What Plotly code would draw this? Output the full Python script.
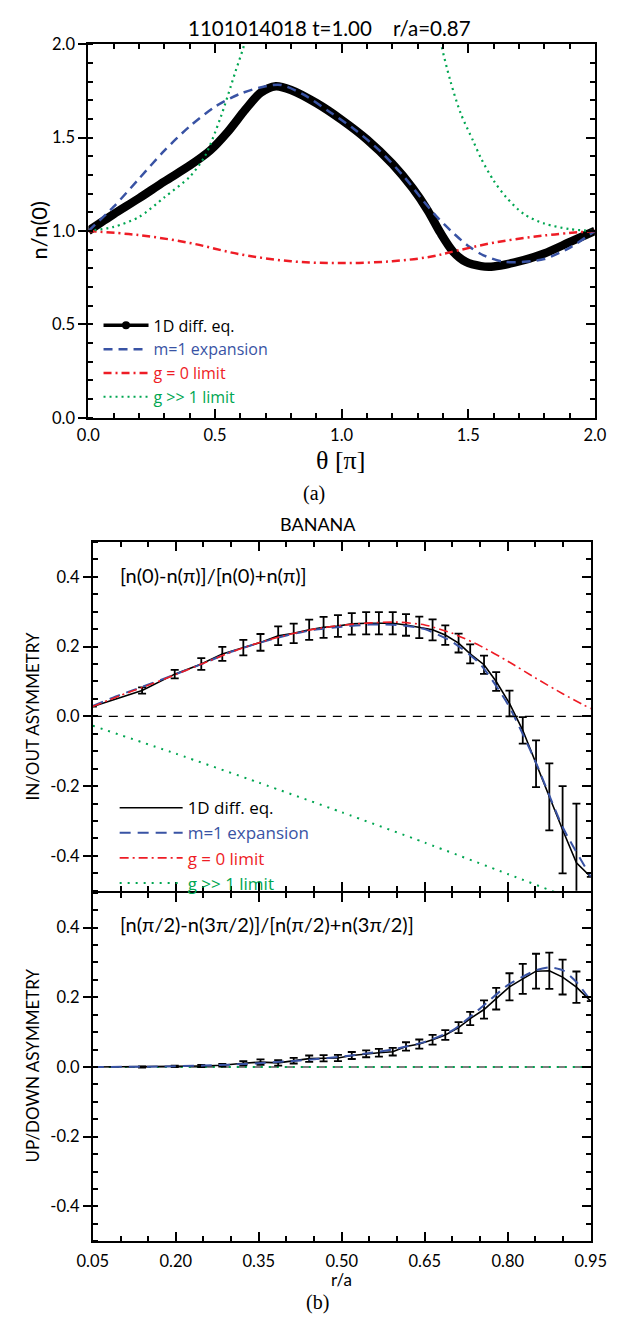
import plotly.graph_objects as go

W, H = 622, 1334

# ---------------- Panel (a): n/n(0) vs theta/pi ----------------
theta_diff = [0.00, 0.10, 0.20, 0.30, 0.40, 0.48, 0.55, 0.62, 0.68, 0.74, 0.80, 0.90, 1.00, 1.10,
              1.20, 1.28, 1.34, 1.39, 1.44, 1.49, 1.55, 1.60, 1.68, 1.80, 1.90, 2.00]
n_diff = [1.00, 1.09, 1.175, 1.265, 1.35, 1.43, 1.53, 1.65, 1.74, 1.775, 1.755, 1.685, 1.595, 1.49,
          1.36, 1.23, 1.11, 0.99, 0.89, 0.835, 0.812, 0.81, 0.83, 0.88, 0.94, 1.00]

theta_m1 = [0.00, 0.10, 0.20, 0.30, 0.40, 0.50, 0.60, 0.70, 0.76, 0.85, 0.95, 1.05, 1.15, 1.25,
            1.32, 1.38, 1.44, 1.50, 1.56, 1.64, 1.72, 1.80, 1.90, 2.00]
n_m1 = [1.00, 1.13, 1.28, 1.43, 1.56, 1.665, 1.735, 1.775, 1.782, 1.73, 1.64, 1.545, 1.43, 1.285,
        1.165, 1.07, 0.99, 0.92, 0.87, 0.835, 0.835, 0.85, 0.91, 1.00]

theta_g0 = [0.0, 0.2, 0.4, 0.6, 0.8, 1.0, 1.2, 1.35, 1.45, 1.6, 1.8, 2.0]
n_g0 = [1.0, 0.978, 0.936, 0.875, 0.838, 0.828, 0.838, 0.862, 0.893, 0.937, 0.976, 1.0]

theta_ginf = [0.0, 0.1, 0.2, 0.3, 0.4, 0.46, 0.52, 0.58, 0.62, 0.66, None,
              1.36, 1.39, 1.43, 1.47, 1.52, 1.55, 1.60, 1.65, 1.72, 1.80, 1.90, 2.0]
n_ginf = [1.0, 1.022, 1.075, 1.18, 1.29, 1.40, 1.60, 1.85, 2.02, 2.3, None,
          2.3, 2.02, 1.80, 1.63, 1.48, 1.39, 1.27, 1.18, 1.09, 1.04, 1.01, 1.0]

# ---------------- Panel (b): asymmetries vs r/a ----------------
r_pts = [0.139, 0.198, 0.246, 0.284, 0.322, 0.353, 0.385, 0.413, 0.441, 0.467, 0.493, 0.518,
         0.544, 0.567, 0.592, 0.616, 0.640, 0.664, 0.687, 0.711, 0.732, 0.757, 0.779, 0.803,
         0.827, 0.851, 0.875, 0.899, 0.924]
r_line = [0.05] + r_pts + [0.95]

inout_pts = [0.074, 0.121, 0.150, 0.179, 0.197, 0.212, 0.231, 0.238, 0.248, 0.255, 0.259, 0.265,
             0.267, 0.267, 0.267, 0.262, 0.255, 0.248, 0.233, 0.210, 0.179, 0.148, 0.100, 0.037,
             -0.040, -0.136, -0.231, -0.325, -0.420]
inout_err = [0.009, 0.012, 0.017, 0.020, 0.022, 0.024, 0.027, 0.028, 0.029, 0.030, 0.031, 0.031,
             0.032, 0.032, 0.032, 0.031, 0.031, 0.030, 0.028, 0.027, 0.027, 0.026, 0.027, 0.037,
             0.038, 0.067, 0.096, 0.125, 0.170]
inout_start, inout_end = 0.028, -0.46

updown_pts = [0.000, 0.002, 0.003, 0.005, 0.011, 0.014, 0.012, 0.018, 0.024, 0.025, 0.026, 0.033,
              0.038, 0.041, 0.044, 0.059, 0.066, 0.078, 0.092, 0.113, 0.139, 0.165, 0.196, 0.230,
              0.253, 0.275, 0.276, 0.258, 0.229]
updown_err = [0.002, 0.002, 0.003, 0.004, 0.006, 0.008, 0.008, 0.008, 0.009, 0.009, 0.009, 0.010,
              0.010, 0.011, 0.011, 0.012, 0.013, 0.014, 0.014, 0.016, 0.019, 0.026, 0.031, 0.039,
              0.043, 0.050, 0.052, 0.050, 0.045]
updown_start, updown_end = 0.0, 0.189

r_model = [0.05, 0.10, 0.14, 0.20, 0.25, 0.30, 0.35, 0.40, 0.45, 0.50, 0.55, 0.60, 0.65, 0.70,
           0.75, 0.80, 0.85, 0.90, 0.95]
inout_m1 = [0.030, 0.062, 0.085, 0.121, 0.152, 0.185, 0.210, 0.232, 0.248, 0.257, 0.263, 0.262,
            0.250, 0.213, 0.150, 0.035, -0.130, -0.320, -0.460]
inout_g0 = [0.028, 0.060, 0.083, 0.120, 0.152, 0.184, 0.211, 0.233, 0.250, 0.261, 0.268, 0.270,
            0.262, 0.238, 0.202, 0.158, 0.110, 0.064, 0.022]

r_ginf = [0.05, 0.20, 0.35, 0.50, 0.65, 0.80, 0.90, 0.95]
inout_ginf = [-0.027, -0.107, -0.190, -0.275, -0.362, -0.452, -0.513, -0.545]

r_m1_ud = [0.05, 0.15, 0.25, 0.30, 0.35, 0.40, 0.45, 0.50, 0.55, 0.60, 0.65, 0.70, 0.75, 0.80,
           0.85, 0.875, 0.90, 0.925, 0.95]
updown_m1 = [0.0, 0.001, 0.004, 0.007, 0.011, 0.016, 0.022, 0.030, 0.040, 0.053, 0.072, 0.105,
             0.168, 0.235, 0.277, 0.286, 0.277, 0.242, 0.190]

r_zero = [0.05, 0.95]
zero_vals = [0.0, 0.0]

theta_ticks = [0.0, 0.5, 1.0, 1.5, 2.0]
theta_ticktext = ["0.0", "0.5", "1.0", "1.5", "2.0"]
n_ticks = [0.0, 0.5, 1.0, 1.5, 2.0]
n_ticktext = ["0.0", "0.5", "1.0", "1.5", "2.0"]
r_ticks = [0.05, 0.20, 0.35, 0.50, 0.65, 0.80, 0.95]
r_ticktext = ["0.05", "0.20", "0.35", "0.50", "0.65", "0.80", "0.95"]
asym_ticks = [-0.4, -0.2, 0.0, 0.2, 0.4]
asym_ticktext = ["-0.4", "-0.2", "0.0", "0.2", "0.4"]

BLUE = "#3953A4"
RED = "#EE1C25"
GREEN = "#00A651"
SANS = "Lato"
LEG = "Open Sans"
SERIF = "Liberation Serif"

fig = go.Figure()

# ---- panel (a) traces ----
fig.add_trace(go.Scatter(x=[None], y=[None], mode="lines+markers", name="1D diff. eq.",
                         line=dict(color="black", width=3.5), marker=dict(color="black", size=8),
                         legend="legend", xaxis="x", yaxis="y"))
fig.add_trace(go.Scatter(x=theta_diff, y=n_diff, mode="lines", showlegend=False,
                         line=dict(color="black", width=8.5, shape="spline", smoothing=0.8),
                         xaxis="x", yaxis="y"))
fig.add_trace(go.Scatter(x=theta_m1, y=n_m1, mode="lines",
                         name="<span style='color:%s'>m=1 expansion</span>" % BLUE,
                         line=dict(color=BLUE, width=2.5, dash="9px,6px", shape="spline", smoothing=0.8),
                         legend="legend", xaxis="x", yaxis="y"))
fig.add_trace(go.Scatter(x=theta_g0, y=n_g0, mode="lines",
                         name="<span style='color:%s'>g = 0 limit</span>" % RED,
                         line=dict(color=RED, width=2.5, dash="8px,4px,2px,4px", shape="spline"),
                         legend="legend", xaxis="x", yaxis="y"))
fig.add_trace(go.Scatter(x=theta_ginf, y=n_ginf, mode="lines",
                         name="<span style='color:%s'>g >> 1 limit</span>" % GREEN,
                         line=dict(color=GREEN, width=2.2, dash="2px,4px", shape="spline", smoothing=0.8),
                         legend="legend", xaxis="x", yaxis="y"))

# ---- panel (b) top: in/out ----
fig.add_trace(go.Scatter(x=r_line, y=[inout_start] + inout_pts + [inout_end], mode="lines",
                         name="1D diff. eq.", line=dict(color="black", width=1.6),
                         error_y=dict(type="data", array=[None] + inout_err + [None], visible=True,
                                      color="black", thickness=1.8, width=4),
                         legend="legend2", xaxis="x2", yaxis="y2"))
fig.add_trace(go.Scatter(x=r_model, y=inout_m1, mode="lines",
                         name="<span style='color:%s'>m=1 expansion</span>" % BLUE,
                         line=dict(color=BLUE, width=2, dash="11px,7px", shape="spline", smoothing=0.6),
                         legend="legend2", xaxis="x2", yaxis="y2"))
fig.add_trace(go.Scatter(x=r_model, y=inout_g0, mode="lines",
                         name="<span style='color:%s'>g = 0 limit</span>" % RED,
                         line=dict(color=RED, width=1.6, dash="9px,4px,2px,4px", shape="spline", smoothing=0.6),
                         legend="legend2", xaxis="x2", yaxis="y2"))
fig.add_trace(go.Scatter(x=r_ginf, y=inout_ginf, mode="lines",
                         name="<span style='color:%s'>g >> 1 limit</span>" % GREEN,
                         line=dict(color=GREEN, width=2, dash="2px,6px", shape="spline", smoothing=0.6),
                         legend="legend2", xaxis="x2", yaxis="y2"))
fig.add_trace(go.Scatter(x=r_zero, y=zero_vals, mode="lines", showlegend=False,
                         line=dict(color="black", width=1.2, dash="9px,7px"), xaxis="x2", yaxis="y2"))

# ---- panel (b) bottom: up/down ----
fig.add_trace(go.Scatter(x=r_zero, y=zero_vals, mode="lines", showlegend=False,
                         line=dict(color="black", width=1.2, dash="9px,7px"), xaxis="x3", yaxis="y3"))
fig.add_trace(go.Scatter(x=r_zero, y=zero_vals, mode="lines", showlegend=False,
                         line=dict(color=GREEN, width=2, dash="2px,6px"), xaxis="x3", yaxis="y3"))
fig.add_trace(go.Scatter(x=r_line, y=[updown_start] + updown_pts + [updown_end], mode="lines",
                         showlegend=False, line=dict(color="black", width=1.6),
                         error_y=dict(type="data", array=[None] + updown_err + [None], visible=True,
                                      color="black", thickness=1.8, width=4),
                         xaxis="x3", yaxis="y3"))
fig.add_trace(go.Scatter(x=r_m1_ud, y=updown_m1, mode="lines", showlegend=False,
                         line=dict(color=BLUE, width=2, dash="11px,7px", shape="spline", smoothing=0.6),
                         xaxis="x3", yaxis="y3"))

# empty traces to make overlay (right-side tick) axes exist
for ya, xa in (("y4", "x"), ("y5", "x2"), ("y6", "x3")):
    fig.add_trace(go.Scatter(x=[None], y=[None], showlegend=False, hoverinfo="skip",
                             xaxis=xa, yaxis=ya))


def px_x(v):
    return v / W


def px_y(v):
    return 1 - v / H


TICKFONT = dict(family=SANS, size=16.5, color="black")

xa_common = dict(showline=True, linecolor="black", linewidth=2, mirror="ticks", showgrid=False,
                 zeroline=False, ticks="inside", ticklen=9, tickwidth=1.8, tickcolor="black",
                 tickfont=TICKFONT, tickmode="array", ticklabeloverflow="allow",
                 minor=dict(ticks="inside", ticklen=5, tickwidth=1.5, tickcolor="black"))
ya_common = dict(showline=True, linecolor="black", linewidth=2, mirror=True, showgrid=False,
                 zeroline=False, ticks="outside", ticklen=8, tickwidth=1.8, tickcolor="black",
                 tickfont=TICKFONT, tickmode="array", ticklabeloverflow="allow",
                 minor=dict(ticks="inside", ticklen=5, tickwidth=1.5, tickcolor="black"))
yr_common = dict(showline=False, showgrid=False, zeroline=False, ticks="inside", ticklen=9,
                 tickwidth=1.8, tickcolor="black", showticklabels=False, tickmode="array",
                 side="right",
                 minor=dict(ticks="inside", ticklen=5, tickwidth=1.5, tickcolor="black"))

dom_a_x = [px_x(76.3), px_x(610.3)]
dom_a_y = [px_y(414.0), px_y(34.7)]
dom_b_x = [px_x(81.0), px_x(606.0)]
# axis lines are drawn just outside the domain; leave 2px so the shared border coincides
dom_b1_y = [px_y(894.2), px_y(540.0)]
dom_b2_y = [px_y(1250.0), px_y(896.2)]

fig.update_layout(
    width=W, height=H, margin=dict(l=0, r=0, t=0, b=0),
    paper_bgcolor="white", plot_bgcolor="white", showlegend=True,
    font=dict(family=SANS, color="black"),
    xaxis=dict(xa_common, domain=dom_a_x, range=[0, 2], anchor="y",
               tickvals=theta_ticks, ticktext=theta_ticktext, ticklabelstandoff=1,
               minor=dict(xa_common["minor"], dtick=0.1, tick0=0)),
    yaxis=dict(ya_common, domain=dom_a_y, range=[0, 2], anchor="x",
               tickvals=n_ticks, ticktext=n_ticktext,
               minor=dict(ya_common["minor"], dtick=0.1, tick0=0)),
    yaxis4=dict(yr_common, overlaying="y", anchor="x", range=[0, 2], tickvals=n_ticks,
                minor=dict(yr_common["minor"], dtick=0.1, tick0=0)),
    xaxis2=dict(xa_common, domain=dom_b_x, range=[0.05, 0.95], anchor="y2",
                tickvals=r_ticks, ticktext=r_ticktext, showticklabels=False,
                minor=dict(xa_common["minor"], dtick=0.05, tick0=0.05)),
    yaxis2=dict(ya_common, domain=dom_b1_y, range=[-0.5, 0.5], anchor="x2",
                tickvals=asym_ticks, ticktext=asym_ticktext,
                minor=dict(ya_common["minor"], dtick=0.05, tick0=0)),
    yaxis5=dict(yr_common, overlaying="y2", anchor="x2", range=[-0.5, 0.5], tickvals=asym_ticks,
                minor=dict(yr_common["minor"], dtick=0.05, tick0=0)),
    xaxis3=dict(xa_common, domain=dom_b_x, range=[0.05, 0.95], anchor="y3",
                tickvals=r_ticks, ticktext=r_ticktext, ticklabelstandoff=4,
                minor=dict(xa_common["minor"], dtick=0.05, tick0=0.05)),
    yaxis3=dict(ya_common, domain=dom_b2_y, range=[-0.5, 0.5], anchor="x3",
                tickvals=asym_ticks, ticktext=asym_ticktext,
                minor=dict(ya_common["minor"], dtick=0.05, tick0=0)),
    yaxis6=dict(yr_common, overlaying="y3", anchor="x3", range=[-0.5, 0.5], tickvals=asym_ticks,
                minor=dict(yr_common["minor"], dtick=0.05, tick0=0)),
    legend=dict(x=px_x(87), y=px_y(303), xanchor="left", yanchor="top", itemwidth=45,
                bgcolor="rgba(0,0,0,0)", borderwidth=0, tracegroupgap=0,
                font=dict(family=LEG, size=16, color="black")),
    legend2=dict(x=px_x(104), y=px_y(792), xanchor="left", yanchor="top", itemwidth=63,
                 bgcolor="rgba(0,0,0,0)", borderwidth=0, tracegroupgap=0,
                 font=dict(family=LEG, size=17, color="black")),
)

NB = "\u00a0"
annots = [
    dict(text="1101014018 t=1.00" + NB * 4 + "r/a=0.87", x=px_x(331), y=px_y(18),
         font=dict(family=SANS, size=20.5)),
    dict(text="n/n(0)", x=px_x(24), y=px_y(224), textangle=-90, font=dict(family=SANS, size=22)),
    dict(text="θ [π]", x=px_x(342), y=px_y(457), font=dict(family=SERIF, size=26)),
    dict(text="(a)", x=px_x(314), y=px_y(491), font=dict(family=SERIF, size=20)),
    dict(text="BANANA", x=px_x(318), y=px_y(522), font=dict(family=SANS, size=18)),
    dict(text="[n(0)-n(π)]/[n(0)+n(π)]", x=px_x(108), y=px_y(574), xanchor="left",
         font=dict(family=SANS, size=20)),
    dict(text="IN/OUT ASYMMETRY", x=px_x(17.5), y=px_y(717.6), textangle=-90,
         font=dict(family=SANS, size=17)),
    dict(text="[n(π/2)-n(3π/2)]/[n(π/2)+n(3π/2)]", x=px_x(108), y=px_y(928), xanchor="left",
         font=dict(family=SANS, size=20)),
    dict(text="UP/DOWN ASYMMETRY", x=px_x(17.5), y=px_y(1072), textangle=-90,
         font=dict(family=SANS, size=17)),
    dict(text="r/a", x=px_x(343), y=px_y(1289), font=dict(family=SANS, size=17)),
    dict(text="(b)", x=px_x(318), y=px_y(1312), font=dict(family=SERIF, size=20)),
]
for a in annots:
    a.setdefault("xanchor", "center")
    a.update(xref="paper", yref="paper", yanchor="middle", showarrow=False)
    a["font"].setdefault("color", "black")
fig.update_layout(annotations=annots)

fig.write_html("out.html")
